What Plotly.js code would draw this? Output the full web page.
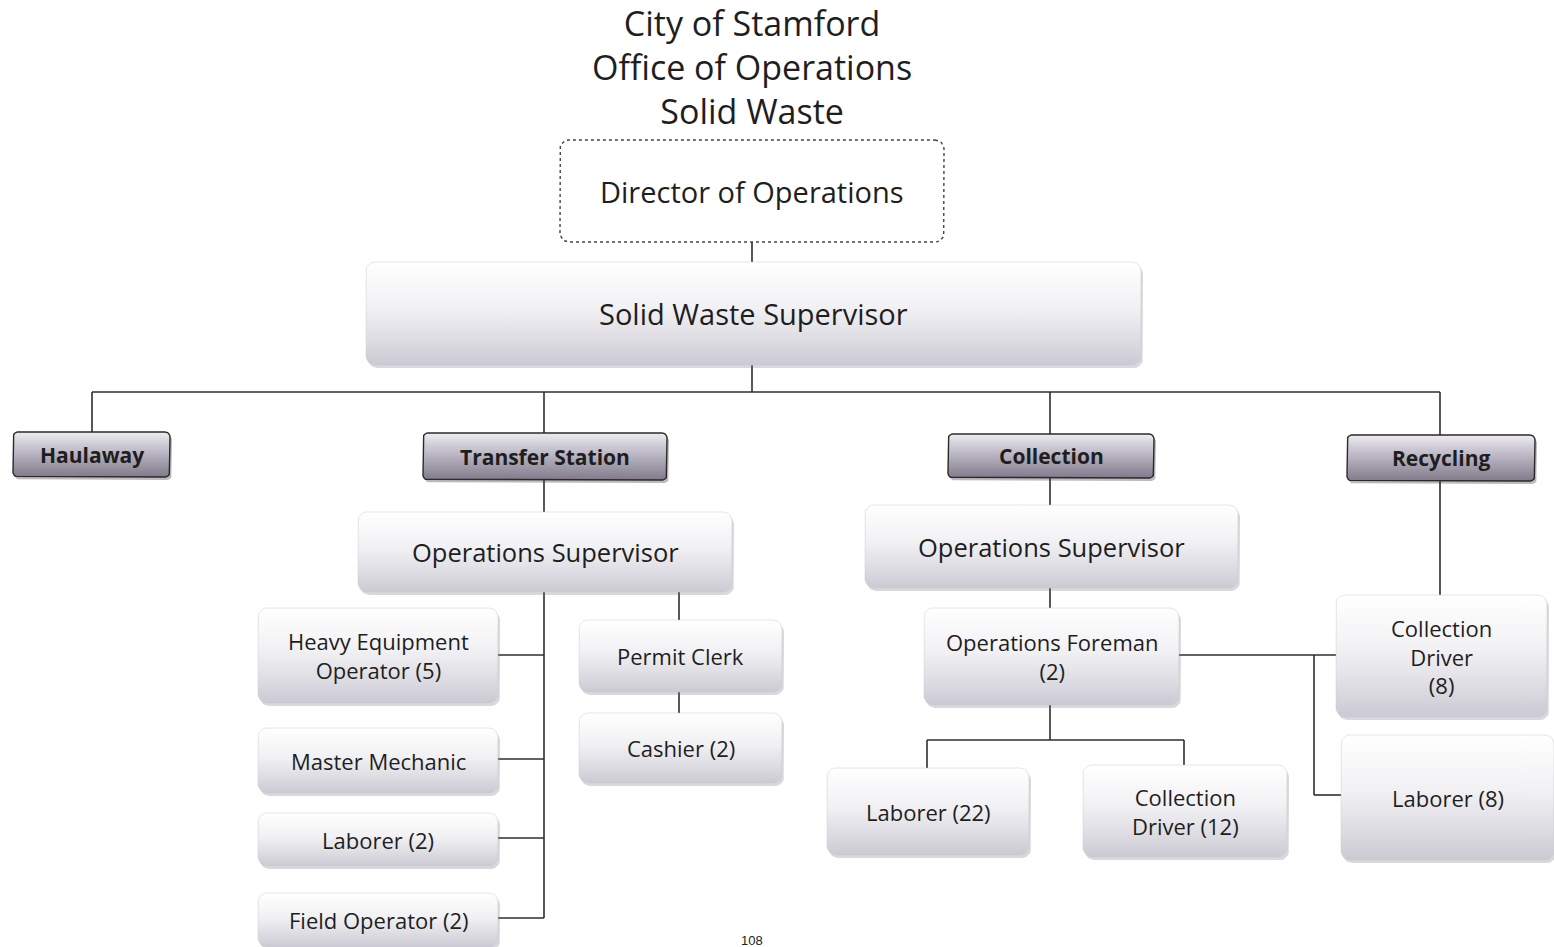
<!DOCTYPE html>
<html><head><meta charset="utf-8">
<script src="https://cdn.plot.ly/plotly-3.0.1.min.js"></script>
<style>html,body{margin:0;padding:0;background:#fff}#chart{width:1554px;height:947px}</style>
</head><body><div id="chart"></div>
<script>
// ---- content (text) ----
const titleLines = ["City of Stamford", "Office of Operations", "Solid Waste"];
const nodeLabels = [
  "Director of Operations",
  "Solid Waste Supervisor",
  "Haulaway", "Transfer Station", "Collection", "Recycling",
  "Operations Supervisor", "Operations Supervisor",
  "Heavy Equipment<br>Operator (5)", "Permit Clerk", "Master Mechanic", "Cashier (2)",
  "Laborer (2)", "Field Operator (2)",
  "Operations Foreman<br>(2)", "Collection<br>Driver<br>(8)",
  "Laborer (22)", "Collection<br>Driver (12)", "Laborer (8)"
];
const pageNumber = "108";

// ---- geometry / style (pixel space of the page) ----
const boxGeom = [
  [560,140,944,242,'dotted',29],
  [366,262,1141,365,'light',29],
  [13,432,170,477,'header',21],
  [423,433,667,480,'header',21],
  [948,434,1154,478,'header',21],
  [1347,435,1535,481,'header',21],
  [358,512,732,592,'light',25.5],
  [865,505,1238,588,'light',25.5],
  [258,608,498,703,'light',22],
  [579,620,782,692,'light',22],
  [258,728,498,793,'light',22],
  [579,713,782,783,'light',22],
  [258,813,498,866,'light',22],
  [258,893,498,947,'light',22],
  [924,608,1179,705,'light',22],
  [1336,595,1547,717,'light',22],
  [827,768,1029,855,'light',22],
  [1083,765,1287,857,'light',22],
  [1341,735,1554,860,'light',22]
];
const connectors = [
  [[752,242],[752,262]],
  [[752,365],[752,392]],
  [[92,392],[1440,392]],
  [[92,392],[92,432]],[[544,392],[544,433]],[[1050,392],[1050,434]],[[1440,392],[1440,435]],
  [[544,480],[544,512]],
  [[544,592],[544,918]],
  [[498,655],[544,655]],[[498,759],[544,759]],[[498,838],[544,838]],[[498,918],[544,918]],
  [[679,592],[679,620]],[[679,692],[679,713]],
  [[1050,478],[1050,505]],[[1050,588],[1050,608]],[[1050,705],[1050,740]],
  [[927,740],[1184,740]],[[927,740],[927,768]],[[1184,740],[1184,765]],
  [[1179,655],[1336,655]],[[1314,655],[1314,795]],[[1314,795],[1341,795]],
  [[1440,481],[1440,595]]
];

function roundRect(x0,y0,x1,y1,r){
  const xs=[],ys=[];
  const corners=[[x1-r,y0+r,-90,0],[x1-r,y1-r,0,90],[x0+r,y1-r,90,180],[x0+r,y0+r,180,270]];
  corners.forEach(c=>{
    for(let a=c[2];a<=c[3];a+=15){
      const t=a*Math.PI/180;
      xs.push(c[0]+r*Math.cos(t)); ys.push(c[1]+r*Math.sin(t));
    }
  });
  xs.push(xs[0]); ys.push(ys[0]);
  return {xs,ys};
}

const FONT='"Open Sans", Lato, sans-serif';
const traces=[];
const annotations=[];
const shapes=[];

connectors.forEach(p=>{
  shapes.push({type:'line',xref:'x',yref:'y',x0:p[0][0],y0:p[0][1],x1:p[1][0],y1:p[1][1],
    line:{color:'#2e2e2e',width:1.6},layer:'below'});
});

boxGeom.forEach((g,i)=>{
  const [x0,y0,x1,y1,kind,fs]=g;
  const r = kind==='header'?5:9;
  if(kind!=='dotted'){
    const sh=roundRect(x0+2,y0+3,x1+2,y1+3,r);
    traces.push({type:'scatter',mode:'lines',x:sh.xs,y:sh.ys,fill:'toself',
      fillcolor:kind==='header'?'rgba(60,60,70,0.35)':'rgba(120,120,130,0.28)',
      line:{width:0},hoverinfo:'skip',showlegend:false});
  }
  const p=roundRect(x0,y0,x1,y1,r);
  const t={type:'scatter',mode:'lines',x:p.xs,y:p.ys,fill:'toself',hoverinfo:'skip',showlegend:false};
  if(kind==='dotted'){
    t.fillcolor='#ffffff'; t.line={color:'#444',width:1.4,dash:'dot'};
  } else if(kind==='header'){
    t.line={color:'#2a2a2a',width:1.4};
    t.fillgradient={type:'vertical',start:y0,stop:y1,
      colorscale:[[0,'#eeecf2'],[0.35,'#c6c2ce'],[1,'#807a8a']]};
  } else {
    t.line={color:'rgba(200,200,205,0.6)',width:0.8};
    t.fillgradient={type:'vertical',start:y0,stop:y1,
      colorscale:[[0,'#ffffff'],[0.45,'#f1f1f4'],[0.8,'#dad9e0'],[1,'#cbcad3']]};
  }
  traces.push(t);
  annotations.push({xref:'x',yref:'y',x:(x0+x1)/2,y:(y0+y1)/2,showarrow:false,
    text: kind==='header' ? '<b>'+nodeLabels[i]+'</b>' : nodeLabels[i],
    font:{family:FONT,size:fs,color:'#1e1e1e'},
    xanchor:'center',yanchor:'middle'});
});

annotations.push({xref:'x',yref:'y',x:752,y:67,showarrow:false,text:titleLines.join('<br>'),
  font:{family:FONT,size:34,color:'#1e1e1e'},xanchor:'center',yanchor:'middle',align:'center'});
annotations.push({xref:'x',yref:'y',x:752,y:940,showarrow:false,text:pageNumber,
  font:{family:'Liberation Sans, Arial, sans-serif',size:13,color:'#222'},xanchor:'center',yanchor:'middle'});

const layout={
  width:1554,height:947,margin:{l:0,r:0,t:0,b:0},
  paper_bgcolor:'#ffffff',plot_bgcolor:'#ffffff',
  xaxis:{range:[0,1554],visible:false,fixedrange:true},
  yaxis:{range:[947,0],visible:false,fixedrange:true},
  shapes:shapes,annotations:annotations,showlegend:false
};
Plotly.newPlot('chart',traces,layout,{staticPlot:true,displayModeBar:false});
</script></body></html>
